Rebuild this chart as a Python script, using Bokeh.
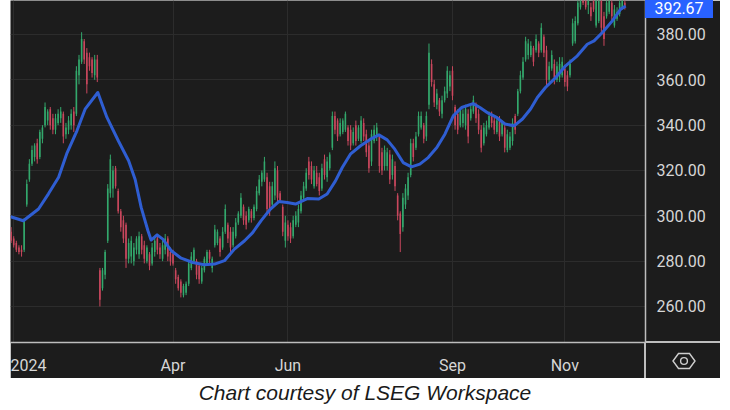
from bokeh.plotting import figure
from bokeh.models import (Range1d, FixedTicker, Div,
                          NumeralTickFormatter, ColumnDataSource)
from bokeh.layouts import column
from bokeh.embed import file_html
from bokeh.resources import INLINE

# ---------------- data (trading-day index, first bar = -1) ----------------
first_index = -1
opens = [
    293, 290, 288, 286, 285, 285, 305, 316, 323, 326,
    332, 326, 334, 340, 342, 347, 343, 338, 341, 343,
    345, 336, 338, 340, 346, 345, 362, 368, 377, 372,
    370, 369, 362, 369, 276, 268, 274, 289, 310, 312,
    321, 311, 302, 298, 296, 281, 282, 280, 285, 283,
    291, 287, 280, 283, 279, 284, 290, 286, 281, 285,
    290, 284, 283, 276, 273, 271, 265, 266, 270, 277,
    280, 280, 278, 271, 276, 279, 284, 277, 287, 288,
    290, 286, 293, 296, 293, 287, 291, 297, 300, 304,
    300, 298, 302, 299, 303, 310, 315, 316, 317, 313,
    305, 309, 320, 310, 304, 289, 296, 295, 291, 296,
    297, 302, 308, 312, 324, 322, 313, 319, 317, 312,
    325, 317, 321, 330, 344, 342, 336, 337, 338, 339,
    338, 332, 340, 334, 333, 341, 336, 331, 324, 333,
    335, 335, 328, 322, 322, 327, 318, 322, 309, 301,
    295, 305, 309, 318, 332, 330, 336, 339, 340, 335,
    349, 367, 358, 349, 351, 345, 351, 354, 357, 364,
    348, 345, 340, 341, 340, 345, 343, 346, 349, 345,
    338, 332, 336, 339, 344, 342, 337, 342, 336, 339,
    329, 330, 333, 344, 345, 355, 361, 369, 371, 371,
    374, 373, 376, 373, 379, 373, 360, 365, 367, 360,
    361, 362, 365, 362, 362, 376, 377, 385, 392, 398,
    396, 393, 392, 396, 384, 386, 396, 388, 388, 390,
    394, 384, 387, 389, 392, 394,
]
highs = [
    295, 291, 289, 287, 287, 299, 316, 325, 331, 332,
    334, 338, 340, 350, 347, 348, 345, 345, 347, 348,
    346, 341, 344, 347, 348, 366, 371, 381, 378, 374,
    372, 370, 371, 371, 277, 277, 285, 314, 327, 322,
    322, 312, 303, 300, 297, 290, 291, 288, 291, 293,
    292, 289, 287, 284, 288, 291, 291, 288, 289, 292,
    291, 286, 285, 277, 274, 272, 270, 271, 280, 284,
    286, 281, 279, 278, 282, 285, 285, 282, 296, 294,
    291, 295, 305, 297, 295, 295, 299, 302, 310, 305,
    302, 304, 303, 305, 313, 318, 320, 326, 319, 315,
    315, 324, 322, 311, 305, 300, 298, 297, 300, 302,
    305, 311, 315, 321, 326, 324, 322, 322, 319, 323,
    327, 326, 328, 346, 346, 343, 343, 343, 346, 340,
    340, 339, 342, 340, 344, 343, 338, 333, 338, 340,
    341, 336, 330, 331, 330, 329, 327, 324, 310, 302,
    310, 314, 319, 334, 334, 337, 346, 346, 341, 346,
    376, 369, 360, 356, 352, 353, 357, 366, 364, 366,
    349, 347, 348, 347, 349, 347, 349, 353, 350, 347,
    340, 341, 342, 346, 346, 344, 344, 344, 342, 340,
    338, 337, 343, 345, 356, 364, 370, 379, 378, 377,
    375, 380, 377, 385, 380, 375, 368, 373, 369, 368,
    370, 370, 366, 364, 369, 387, 388, 396, 399, 400,
    398, 397, 394, 398, 397, 398, 398, 390, 396, 397,
    396, 393, 392, 396, 397, 396,
]
lows = [
    288, 286, 284, 283, 282, 284, 304, 315, 322, 324,
    323, 325, 332, 339, 340, 338, 336, 336, 340, 341,
    332, 334, 336, 338, 337, 344, 358, 367, 367, 354,
    364, 361, 360, 359, 260, 267, 272, 288, 308, 308,
    312, 301, 293, 288, 277, 279, 279, 278, 283, 281,
    283, 279, 279, 276, 278, 282, 283, 281, 280, 283,
    280, 278, 278, 270, 267, 264, 264, 265, 269, 276,
    279, 272, 270, 270, 275, 278, 279, 275, 286, 287,
    282, 285, 292, 288, 284, 286, 290, 296, 299, 296,
    294, 297, 297, 298, 302, 309, 313, 315, 301, 300,
    304, 307, 306, 306, 291, 286, 289, 288, 290, 295,
    295, 301, 307, 311, 316, 314, 312, 313, 309, 311,
    316, 315, 320, 329, 336, 333, 335, 336, 337, 331,
    329, 331, 331, 333, 332, 333, 326, 319, 322, 332,
    333, 319, 318, 320, 320, 314, 316, 311, 298, 284,
    293, 303, 307, 317, 324, 329, 335, 338, 332, 333,
    347, 357, 348, 347, 344, 343, 350, 352, 355, 351,
    338, 336, 339, 339, 338, 332, 342, 345, 341, 336,
    328, 331, 335, 338, 339, 336, 336, 333, 335, 328,
    328, 329, 331, 336, 344, 354, 360, 368, 369, 370,
    366, 372, 370, 372, 370, 357, 359, 364, 358, 359,
    359, 361, 357, 355, 361, 375, 376, 384, 391, 393,
    391, 389, 386, 390, 383, 385, 380, 375, 387, 389,
    386, 383, 386, 388, 391, 391,
]
closes = [
    289, 287, 285, 284, 284, 298, 314, 323, 329, 331,
    325, 337, 339, 348, 346, 340, 338, 343, 345, 346,
    335, 339, 342, 345, 340, 364, 369, 378, 369, 358,
    366, 363, 369, 361, 263, 276, 284, 312, 325, 320,
    313, 302, 295, 290, 281, 288, 289, 286, 290, 291,
    285, 281, 286, 278, 286, 289, 285, 283, 287, 290,
    282, 280, 279, 272, 268, 266, 269, 270, 279, 282,
    285, 274, 272, 277, 281, 284, 281, 281, 294, 293,
    284, 293, 303, 290, 286, 293, 297, 301, 308, 298,
    296, 303, 299, 304, 311, 316, 319, 324, 303, 302,
    313, 321, 308, 307, 293, 297, 291, 290, 298, 300,
    303, 309, 313, 319, 318, 316, 320, 314, 311, 321,
    318, 324, 327, 344, 338, 335, 341, 342, 345, 333,
    331, 337, 333, 339, 342, 335, 328, 321, 336, 338,
    339, 322, 320, 329, 328, 316, 325, 313, 300, 292,
    308, 312, 317, 332, 326, 335, 344, 344, 334, 344,
    372, 359, 350, 354, 346, 351, 355, 364, 362, 353,
    340, 338, 347, 345, 347, 335, 347, 351, 343, 338,
    330, 339, 340, 344, 341, 338, 342, 335, 341, 330,
    336, 335, 341, 338, 355, 362, 368, 377, 376, 375,
    368, 378, 372, 383, 372, 360, 366, 371, 361, 366,
    367, 368, 359, 357, 367, 385, 386, 394, 397, 394,
    392, 395, 388, 391, 395, 396, 383, 378, 394, 395,
    388, 391, 390, 394, 395, 392.67,
]

# 20-day moving average line
ma_idx = [-1.2, 3.7, 9.5, 13.3, 17.2, 20.3, 24.2, 27.4, 32.2, 35.7,
          40.1, 44.0, 46.5, 48.8, 51.4, 52.6, 54.9, 57.1, 60.3, 64.1,
          68.6, 73.0, 76.9, 80.7, 84.5, 88.4, 91.5, 94.8, 98.3, 101.5,
          104.7, 107.9, 112.4, 116.8, 120.0, 123.2, 125.8, 128.9, 132.8, 136.6,
          139.8, 143.0, 145.9, 149.1, 152.3, 155.5, 158.7, 162.0, 165.1, 168.3,
          171.5, 175.9, 178.5, 181.7, 184.9, 188.1, 191.6, 194.8, 197.9, 200.5,
          203.6, 207.5, 211.3, 215.8, 219.6, 222.2, 225.4, 229.2, 232.4, 234.3]
ma_val = [299.6, 297.8, 303.0, 309.7, 317.0, 327.4, 337.5, 347.2, 354.4, 343.4,
          333.0, 324.3, 316.0, 303.7, 293.4, 289.3, 291.6, 289.7, 284.6, 281.3,
          279.4, 278.4, 278.7, 280.2, 285.3, 289.0, 292.6, 298.0, 303.0, 306.3,
          305.9, 305.2, 307.6, 307.4, 309.6, 315.4, 321.3, 327.2, 330.9, 333.8,
          335.7, 333.5, 329.4, 323.5, 321.6, 322.8, 325.7, 330.1, 336.0, 344.1,
          347.8, 349.5, 347.8, 345.3, 343.4, 340.5, 339.7, 342.7, 347.1, 352.2,
          356.6, 361.0, 366.2, 370.6, 375.7, 377.2, 380.9, 386.0, 391.2, 392.6]

month_ticks = [0, 61, 105, 168, 211]
month_labels = ["2024", "Apr", "Jun", "Sep", "Nov"]
price_ticks = [260, 280, 300, 320, 340, 360, 380]
last_price = 392.67
caption = "Chart courtesy of LSEG Workspace"

# ---------------- styling ----------------
BG = "#1c1c1c"
GRID = "#2c2c2c"
GREEN = "#33a86c"
RED = "#c9475d"
BLUE = "#2f5ed2"
LABEL = "#d6d6d6"
SEP = "#bdbdbd"

idx = list(range(first_index, first_index + len(closes)))
colors = [GREEN if c >= o else RED for o, c in zip(opens, closes)]
src = ColumnDataSource(dict(
    x=idx, h=highs, l=lows,
    top=[max(o, c) for o, c in zip(opens, closes)],
    bottom=[min(o, c) for o, c in zip(opens, closes)],
    color=colors,
))

p = figure(width=710, height=378,
           x_range=Range1d(-1.23, 241.9), y_range=Range1d(244.1, 395.0),
           output_backend="svg", toolbar_location=None,
           y_axis_location="right",
           min_border_left=0, min_border_top=0,
           min_border_right=75, min_border_bottom=36,
           background_fill_color=BG, border_fill_color=BG,
           outline_line_color=None)
p.margin = (0, 0, 0, 10)

p.segment(x0="x", y0="l", x1="x", y1="h", source=src, line_color="color", line_width=1)
p.vbar(x="x", width=0.6, top="top", bottom="bottom", source=src,
       fill_color="color", line_color=None)
p.line(ma_idx, ma_val, line_color=BLUE, line_width=3, line_join="round")

p.xgrid.ticker = FixedTicker(ticks=month_ticks)
p.ygrid.ticker = FixedTicker(ticks=price_ticks)
p.grid.grid_line_color = GRID
p.grid.grid_line_width = 1

p.yaxis.ticker = FixedTicker(ticks=price_ticks)
p.yaxis.formatter = NumeralTickFormatter(format="0.00")
p.xaxis.ticker = FixedTicker(ticks=month_ticks)
p.xaxis.major_label_overrides = {t: s for t, s in zip(month_ticks, month_labels)}

for ax in (p.xaxis, p.yaxis):
    ax.major_tick_line_color = None
    ax.minor_tick_line_color = None
    ax.major_tick_out = 0
    ax.major_tick_in = 0
    ax.minor_tick_out = 0
    ax.axis_line_color = SEP
    ax.axis_line_width = 1.5
    ax.major_label_text_color = LABEL
    ax.major_label_text_font = "Roboto"
    ax.major_label_text_font_size = "16px"
p.yaxis.major_label_standoff = 11
p.xaxis.major_label_standoff = 13

# chrome drawn over the axis panels: corner separators, settings icon, last-price tag
overlay = (
    '<div style="position:relative;width:710px;height:0;">'
    '<div style="position:absolute;left:634px;top:-39px;width:1.5px;height:36px;background:#bdbdbd;"></div>'
    '<div style="position:absolute;left:635px;top:-39.75px;width:75px;height:1.5px;background:#bdbdbd;"></div>'
    '<svg style="position:absolute;left:661.5px;top:-29.5px;" width="24" height="18">'
    '<polygon points="1,9 6.5,1.5 17.5,1.5 23,9 17.5,16.5 6.5,16.5" fill="none" stroke="#cfcfcf" stroke-width="1.4"/>'
    '<circle cx="12" cy="9" r="3.4" fill="none" stroke="#cfcfcf" stroke-width="1.4"/>'
    '</svg>'
    '<div style="position:absolute;left:635px;top:-381px;width:68px;height:18px;background:#2962ff;'
    'color:#ffffff;font-family:Roboto,sans-serif;font-size:16px;line-height:18px;text-align:center;">'
    f'{last_price:.2f}</div>'
    '</div>'
)
cap = Div(text=overlay + f'<div style="width:710px;text-align:center;font-family:\'Liberation Sans\',Arial,sans-serif;'
               f'font-style:italic;font-size:21px;color:#1a1a1a;line-height:24px;">{caption}</div>',
          width=710, height=29, margin=(3, 0, 0, 10))

layout = column(p, cap)
open("out.html", "w").write(file_html(layout, INLINE))
